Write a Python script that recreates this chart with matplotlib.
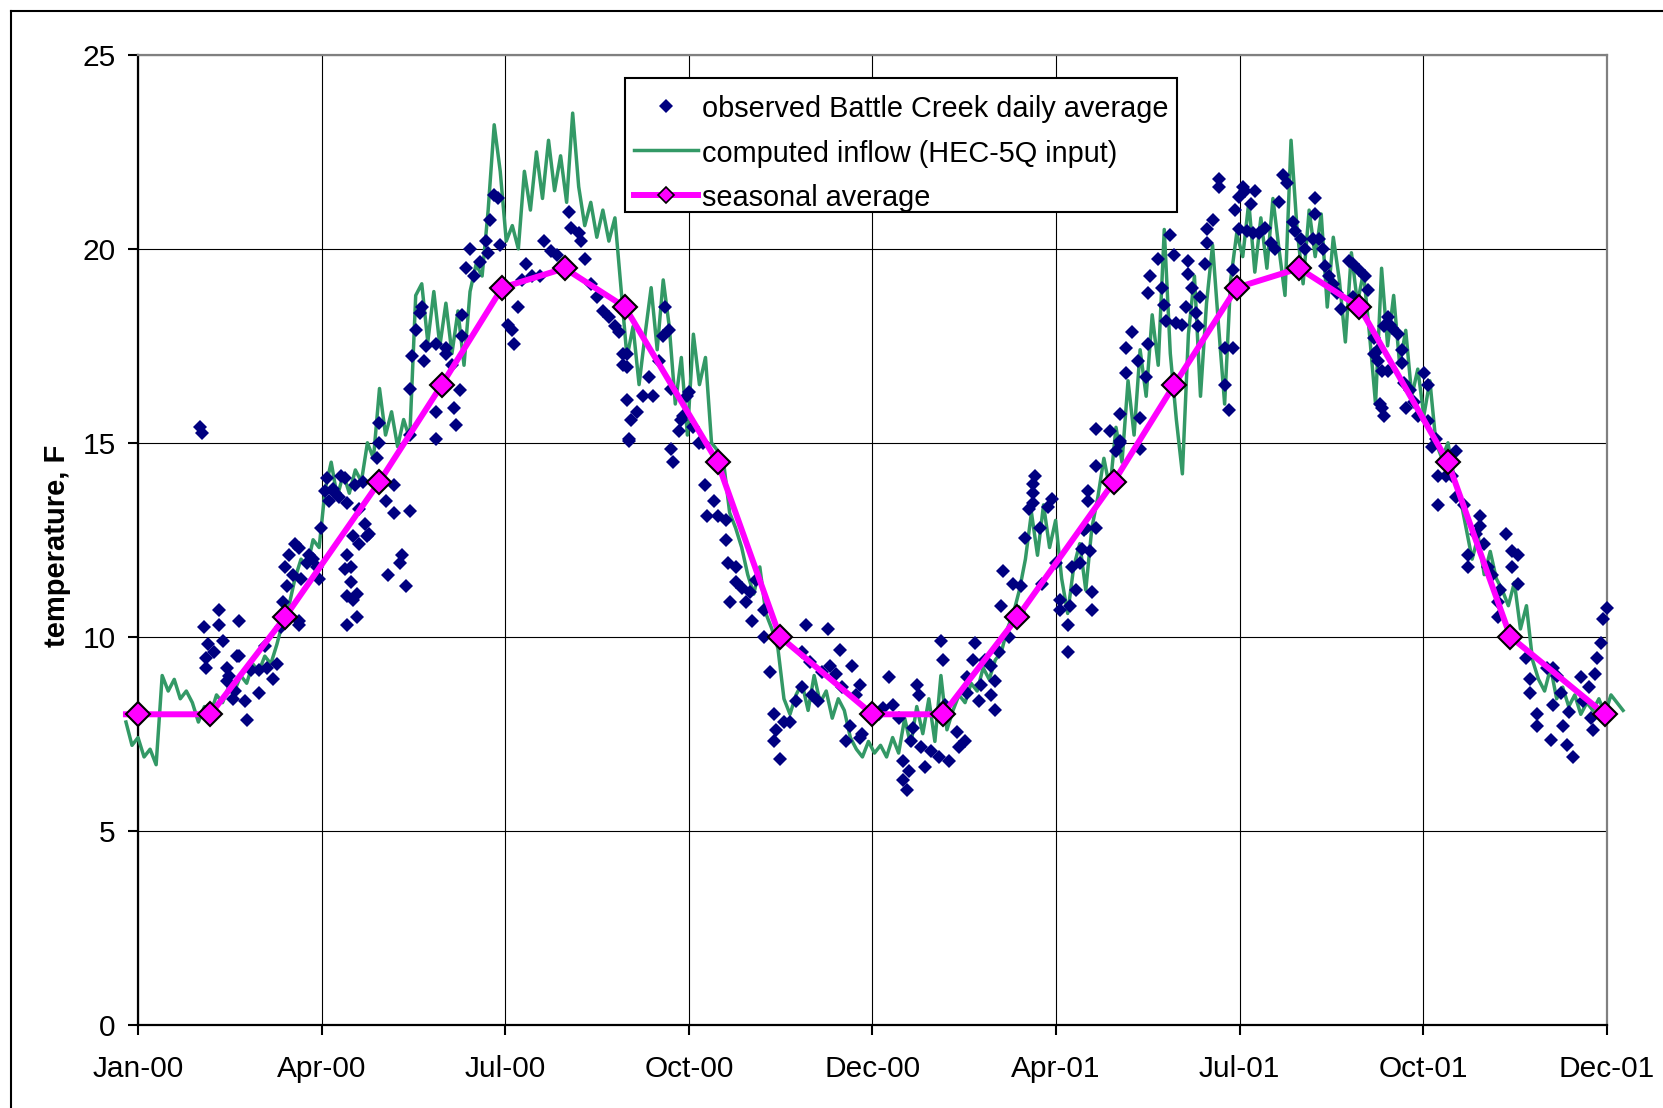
import matplotlib
matplotlib.use("Agg")
import matplotlib.pyplot as plt
import numpy as np
from matplotlib.lines import Line2D
from matplotlib.patches import Rectangle

# x axis is days since Jan-00; Excel axis spans 730 days with 8 equal intervals
X_MAX = 730
TICK_LABELS = ["Jan-00", "Apr-00", "Jul-00", "Oct-00", "Dec-00",
               "Apr-01", "Jul-01", "Oct-01", "Dec-01"]
Y_TICKS = [0, 5, 10, 15, 20, 25]

# computed inflow (HEC-5Q input), read every 3 days starting at day -6
green_temp = [
    7.8, 7.2, 7.4, 6.9, 7.1, 6.7, 9.0, 8.6, 8.9, 8.4, 8.6, 8.3, 7.8, 8.2, 8.0,
    8.5, 8.3, 8.7, 8.6, 9.0, 8.8, 9.3, 9.1, 9.5, 9.3, 9.8, 10.4, 10.8, 11.5,
    12.0, 11.8, 12.5, 12.3, 13.8, 14.5, 13.6, 14.2, 13.7, 14.3, 14.0, 15.0,
    14.6, 16.4, 15.2, 15.8, 14.9, 15.6, 15.1, 18.8, 19.1, 17.6, 18.9, 17.5,
    18.6, 17.3, 18.4, 17.0, 18.9, 19.6, 19.3, 21.0, 23.2, 22.0, 20.2, 20.6,
    20.0, 22.0, 21.0, 22.5, 21.3, 22.8, 21.5, 22.4, 21.2, 23.5, 21.6, 20.6,
    21.2, 20.3, 21.0, 20.2, 20.8, 19.0, 17.2, 18.0, 16.5, 17.8, 19.0, 17.4,
    19.2, 18.0, 16.0, 17.2, 15.2, 17.8, 16.5, 17.2, 15.0, 14.8, 14.5, 13.2,
    12.8, 12.3, 11.6, 11.1, 11.8, 10.6, 10.2, 9.7, 8.4, 8.0, 8.5, 8.8, 8.1,
    9.0, 8.3, 8.6, 7.9, 8.4, 8.1, 7.4, 7.1, 6.9, 7.3, 7.0, 7.2, 6.9, 7.4,
    7.0, 7.9, 7.2, 8.2, 7.5, 8.4, 7.3, 9.0, 7.6, 8.1, 8.5, 8.3, 8.8, 8.6,
    9.2, 8.9, 9.4, 9.6, 10.2, 10.6, 11.2, 12.0, 13.2, 12.1, 13.4, 12.3, 13.0,
    11.5, 10.6, 11.8, 12.4, 11.2, 12.8, 13.6, 14.6, 13.8, 15.4, 14.5, 16.6,
    15.2, 17.4, 16.2, 18.3, 17.0, 20.5, 17.3, 15.6, 14.2, 17.8, 19.3, 16.2,
    18.6, 20.1, 18.0, 16.0, 19.2, 20.4, 19.8, 21.2, 19.4, 20.8, 19.5, 21.3,
    20.0, 18.8, 22.8, 20.5, 19.1, 21.0, 19.8, 20.9, 18.5, 20.3, 19.2, 17.6,
    19.9, 18.6, 19.4, 17.8, 16.0, 19.5, 17.5, 18.8, 17.0, 17.9, 16.2, 16.9,
    15.7, 16.6, 15.0, 14.6, 15.0, 14.1, 13.6, 12.8, 12.0, 12.6, 11.6, 12.2,
    11.5, 11.2, 10.8, 11.4, 10.2, 10.8, 9.4, 8.9, 8.6, 9.2, 8.4, 8.7, 8.2,
    8.5, 8.0, 8.3, 8.1, 8.4, 8.0, 8.5, 8.3, 8.1,
]
green_day = -6 + 3 * np.arange(len(green_temp))

# seasonal average (first point is where the line starts left of the axis)
seasonal_day = [-6, 0, 36, 73, 120, 151, 181, 212, 242, 288, 319, 365,
                400, 437, 485, 515, 546, 577, 607, 651, 682, 729]
seasonal_temp = [8, 8, 8, 10.5, 14, 16.5, 19, 19.5, 18.5, 14.5, 10, 8,
                 8, 10.5, 14, 16.5, 19, 19.5, 18.5, 14.5, 10, 8]

# observed Battle Creek daily average
obs_day = [
    31, 32, 33, 34, 34, 35, 38, 40, 40, 42, 44, 44, 45, 47, 48, 49, 50, 50,
    53, 54, 56, 60, 60, 63, 64, 67, 69, 71, 72, 73, 73, 74, 75, 77, 78, 80,
    80, 80, 81, 84, 85, 87, 89, 90, 91, 93, 94, 95, 97, 98, 100, 101, 103,
    103, 104, 104, 104, 104, 106, 106, 107, 107, 108, 109, 109, 110, 110, 112,
    113, 114, 115, 119, 120, 120, 123, 124, 127, 127, 130, 131, 133, 135, 135,
    135, 136, 138, 140, 141, 142, 143, 148, 148, 148, 149, 153, 153, 156, 157,
    158, 160, 161, 161, 163, 165, 167, 170, 173, 174, 175, 177, 179, 180, 184,
    186, 187, 189, 191, 193, 196, 200, 202, 205, 208, 214, 215, 219, 220, 222,
    225, 228, 231, 234, 237, 239, 241, 241, 243, 243, 243, 244, 244, 245, 248,
    251, 254, 256, 259, 261, 262, 264, 265, 265, 266, 269, 270, 271, 273, 274,
    276, 279, 281, 282, 283, 286, 288, 292, 292, 293, 294, 297, 297, 300, 302,
    304, 305, 307, 311, 311, 314, 316, 316, 317, 319, 321, 324, 327, 330, 330,
    332, 334, 335, 338, 340, 343, 344, 347, 349, 350, 352, 354, 355, 357, 359,
    359, 360, 368, 370, 373, 375, 378, 380, 380, 382, 383, 384, 385, 387, 388,
    389, 391, 394, 398, 399, 400, 401, 403, 407, 408, 411, 412, 412, 415, 416,
    418, 419, 421, 424, 424, 426, 426, 428, 429, 430, 433, 435, 438, 439, 441,
    443, 445, 445, 445, 446, 448, 449, 452, 454, 456, 458, 458, 462, 462, 463,
    464, 466, 468, 469, 470, 471, 472, 472, 473, 474, 474, 476, 476, 476, 483,
    486, 488, 488, 488, 491, 491, 494, 497, 498, 498, 501, 502, 502, 503, 507,
    509, 510, 511, 513, 515, 516, 519, 521, 522, 522, 524, 526, 527, 528, 530,
    531, 531, 534, 537, 537, 540, 540, 542, 544, 544, 545, 547, 547, 549, 550,
    551, 553, 554, 555, 557, 560, 563, 565, 567, 569, 571, 574, 575, 578, 580,
    584, 585, 585, 587, 589, 590, 592, 594, 596, 598, 602, 604, 604, 607, 610,
    611, 614, 614, 616, 616, 617, 618, 618, 619, 619, 621, 621, 622, 623, 626,
    628, 628, 629, 630, 632, 634, 636, 639, 641, 641, 643, 645, 646, 646, 650,
    653, 655, 655, 659, 661, 661, 665, 667, 667, 669, 671, 673, 676, 676, 677,
    680, 683, 683, 686, 686, 690, 692, 692, 695, 695, 700, 702, 703, 703, 705,
    707, 708, 710, 711, 713, 717, 718, 721, 722, 723, 724, 725, 727, 728, 730,
]
obs_temp = [
    15.4, 15.25, 10.25, 9.45, 9.2, 9.8, 9.6, 10.7, 10.3, 9.9, 9.2, 8.85, 9.0,
    8.4, 8.6, 9.5, 9.5, 10.4, 8.35, 7.85, 9.15, 8.55, 9.15, 9.75, 9.2, 8.9,
    9.3, 10.25, 10.9, 10.5, 11.8, 11.3, 12.1, 11.6, 12.4, 10.3, 10.4, 12.3,
    11.5, 11.9, 12.1, 12.0, 11.8, 11.5, 12.8, 13.75, 14.1, 13.5, 13.8, 13.7,
    13.6, 14.15, 14.1, 11.75, 13.45, 12.1, 11.05, 10.3, 11.8, 11.4, 10.95,
    12.6, 13.9, 11.1, 10.5, 12.4, 13.3, 14.0, 12.9, 12.6, 12.65, 14.6, 15.5,
    15.0, 13.5, 11.6, 13.2, 13.9, 11.9, 12.1, 11.3, 13.25, 15.2, 16.4, 17.25,
    17.9, 18.35, 18.5, 17.1, 17.5, 17.55, 15.8, 15.1, 16.5, 17.45, 17.3, 17.0,
    15.9, 15.45, 16.35, 18.3, 17.75, 19.5, 20.0, 19.3, 19.65, 20.2, 19.9,
    20.75, 21.4, 21.3, 20.1, 18.05, 17.9, 17.55, 18.5, 19.2, 19.6, 19.3, 19.3,
    20.2, 19.95, 19.85, 20.95, 20.55, 20.4, 20.2, 19.75, 19.1, 18.75, 18.4,
    18.25, 18.0, 17.85, 17.3, 17.0, 17.3, 16.95, 16.1, 15.1, 15.05, 15.6,
    15.8, 16.2, 16.7, 16.2, 17.1, 17.75, 18.5, 17.9, 16.4, 14.85, 14.5, 15.3,
    15.6, 15.7, 16.2, 16.3, 15.4, 15.0, 15.0, 13.9, 13.1, 13.5, 13.1, 13.0,
    12.5, 11.9, 10.9, 11.4, 11.8, 11.25, 10.9, 11.15, 10.4, 11.45, 10.7, 10.0,
    9.1, 8.0, 7.3, 7.6, 6.85, 7.8, 7.8, 8.35, 8.7, 9.6, 10.3, 9.35, 8.5, 8.35,
    9.1, 10.2, 9.25, 9.05, 9.65, 8.7, 7.3, 7.7, 9.25, 8.5, 8.75, 7.4, 7.5,
    8.0, 8.15, 8.95, 8.25, 7.9, 6.8, 6.3, 6.05, 6.55, 7.3, 7.65, 8.75, 8.5,
    7.15, 6.65, 7.05, 6.9, 9.9, 9.4, 8.25, 6.8, 7.55, 7.15, 7.3, 8.55, 8.95,
    9.4, 9.85, 8.35, 8.75, 9.4, 9.25, 8.5, 8.1, 8.85, 9.6, 10.8, 11.7, 10.0,
    11.35, 10.65, 11.3, 12.55, 13.3, 13.45, 13.7, 13.95, 14.15, 12.8, 11.35,
    13.35, 13.55, 11.9, 10.95, 10.7, 9.6, 10.3, 10.8, 11.8, 11.2, 11.9, 12.25,
    12.75, 12.8, 13.5, 13.75, 12.2, 11.15, 10.7, 12.8, 14.4, 15.35, 15.3, 14.8,
    15.0, 15.75, 15.05, 16.8, 17.45, 17.85, 17.1, 15.65, 14.85, 16.7, 17.55,
    18.85, 19.3, 19.75, 19.0, 18.55, 18.15, 20.35, 19.85, 18.1, 18.05, 18.5,
    19.35, 19.7, 19.0, 18.35, 18.0, 18.75, 19.6, 20.15, 20.5, 20.75, 21.6,
    21.8, 17.45, 16.5, 15.85, 19.45, 17.45, 21.0, 21.35, 20.5, 21.6, 21.5,
    20.45, 21.15, 20.4, 21.5, 20.4, 20.55, 20.15, 20.0, 21.2, 21.9, 21.7,
    20.7, 20.45, 20.25, 20.0, 20.25, 21.3, 20.9, 20.25, 20.0, 19.55, 19.3,
    19.1, 18.85, 18.45, 19.7, 19.6, 18.75, 19.45, 19.3, 18.95, 17.7, 17.3,
    17.1, 17.4, 16.0, 15.9, 16.85, 18.0, 15.7, 16.85, 18.25, 18.05, 17.95,
    17.8, 17.4, 17.05, 16.55, 15.9, 16.35, 16.05, 15.7, 16.8, 16.5, 15.55,
    14.9, 15.1, 14.15, 13.4, 14.15, 14.15, 14.8, 13.6, 13.4, 12.1, 11.8,
    12.65, 13.1, 12.85, 12.4, 11.8, 11.6, 10.9, 10.5, 11.2, 12.65, 12.2, 11.8,
    11.35, 12.1, 9.45, 8.9, 8.55, 8.0, 7.7, 9.2, 7.35, 9.2, 8.25, 9.0, 8.55,
    7.7, 7.2, 8.05, 6.9, 8.95, 8.35, 8.7, 7.9, 7.6, 9.05, 9.45, 9.85, 10.45,
    10.75,
]

NAVY = "#000080"
GREEN = "#339966"
MAGENTA = "#ff00ff"
BORDER_GRAY = "#808080"

plt.rcParams["font.family"] = ["Liberation Sans", "DejaVu Sans"]

fig = plt.figure(figsize=(16.63, 11.08), dpi=100)
ax = fig.add_axes([0.0830, 0.0753, 0.8833, 0.8751])

ax.plot(green_day, green_temp, color=GREEN, lw=2.5, clip_on=False, zorder=3)
n = min(len(obs_day), len(obs_temp))
ax.plot(obs_day[:n], obs_temp[:n], ls="none", marker="D", color=NAVY,
        markersize=7, mew=0, clip_on=False, zorder=4)
ax.plot(seasonal_day, seasonal_temp, color=MAGENTA, lw=4.3, marker="D",
        markersize=12.5, mfc=MAGENTA, mec="black", mew=1.5,
        markevery=list(range(1, len(seasonal_day))), clip_on=False, zorder=5)

ax.set_xlim(0, X_MAX)
ax.set_ylim(0, 25)
ax.set_xticks(np.linspace(0, X_MAX, len(TICK_LABELS)))
ax.set_xticklabels(TICK_LABELS)
ax.set_yticks(Y_TICKS)
ax.tick_params(axis="x", direction="out", length=7, width=1.5, pad=15,
               labelsize=21.5)
ax.tick_params(axis="y", direction="out", length=7, width=1.5, pad=9,
               labelsize=21.5)

ax.set_axisbelow(True)
ax.grid(True, color="black", lw=0.8)
for side in ("left", "bottom"):
    ax.spines[side].set_color("black")
    ax.spines[side].set_linewidth(1.6)
for side in ("top", "right"):
    ax.spines[side].set_color(BORDER_GRAY)
    ax.spines[side].set_linewidth(1.6)

ax.set_ylabel("temperature, F", fontsize=21, fontweight="bold", va="center")
ax.yaxis.set_label_coords(-0.0555, 0.494)

handles = [
    Line2D([], [], ls="none", marker="D", color=NAVY, markersize=7, mew=0),
    Line2D([], [], color=GREEN, lw=2.5),
    Line2D([], [], color=MAGENTA, lw=4.3, marker="D", markersize=8,
           mfc=MAGENTA, mec="black", mew=1.2),
]
labels = ["observed Battle Creek daily average",
          "computed inflow (HEC-5Q input)",
          "seasonal average"]
# Excel's legend box has more room above the rows than below, so the frame
# is drawn separately and the entries sit a little lower inside it
leg_box = Rectangle((0.3318, 0.8381), 0.7075 - 0.3318, 0.9758 - 0.8381,
                    transform=ax.transAxes, facecolor="white",
                    edgecolor="black", lw=1.5, zorder=9, clip_on=False)
ax.add_patch(leg_box)
leg = ax.legend(handles, labels, loc="upper left",
                bbox_to_anchor=(0.332, 0.9682), borderaxespad=0,
                fontsize=20.8, handlelength=2.2, handletextpad=0.15,
                handleheight=1.0, borderpad=0.3, labelspacing=0.54,
                frameon=False)
leg.set_zorder(10)

# outer chart frame (left and top edges are visible in the picture)
fig.add_artist(Line2D([0.0066, 0.0066], [0, 0.990], color="black", lw=1.5,
                      transform=fig.transFigure))
fig.add_artist(Line2D([0.0066, 1.0], [0.990, 0.990], color="black", lw=1.5,
                      transform=fig.transFigure))

fig.savefig("out.png", dpi=100)
